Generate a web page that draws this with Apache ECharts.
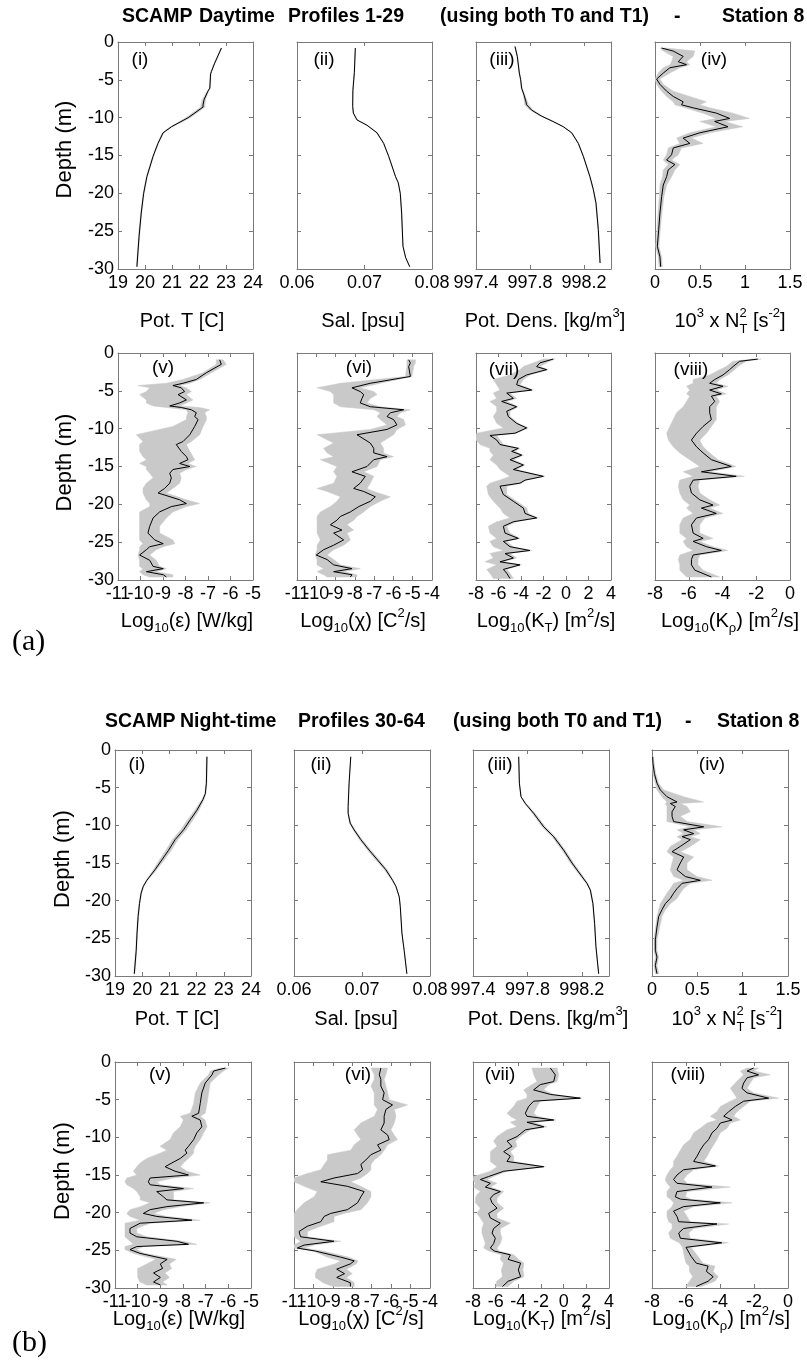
<!DOCTYPE html>
<html><head><meta charset="utf-8">
<script src="https://cdn.jsdelivr.net/npm/echarts@6/dist/echarts.min.js"></script>
<style>html,body{margin:0;padding:0;background:#fff}#c{width:807px;height:1363px}</style>
</head><body><div id="c"></div>
<script>
// ================= DATA (depth in m, negative downward) =================
// ---- (a) Daytime profiles 1-29 ----
const dayTD = [-0.8,-2.8,-3.9,-4.2,-6.1,-6.5,-7.6,-8.3,-8.6,-10.0,-11.2,-12.0,-13.4,-15.1,-17.8,-20.0,-22.6,-25.7,-29.7];
const dayT = [22.83,22.58,22.46,22.43,22.40,22.33,22.19,22.15,22.15,21.60,20.98,20.67,20.48,20.30,20.07,19.95,19.86,19.78,19.70];
const dayT_lo = [22.81,22.56,22.44,22.41,22.38,22.30,22.12,22.07,22.06,21.52,20.94,20.64,20.46,20.28,20.05,19.93,19.84,19.76,19.68];
const dayT_hi = [22.85,22.60,22.48,22.45,22.42,22.36,22.24,22.22,22.22,21.68,21.02,20.70,20.50,20.32,20.09,19.97,19.88,19.80,19.72];

const daySD = [-0.8,-4.0,-6.4,-8.5,-9.4,-10.3,-11.0,-12.0,-13.4,-15.1,-17.8,-18.6,-20.0,-22.6,-27.0,-28.5,-29.7];
const dayS = [0.06864,0.0685,0.06828,0.06825,0.06835,0.06889,0.07037,0.07185,0.07284,0.07358,0.0746,0.0750,0.0753,0.0755,0.0757,0.0761,0.0767];
const dayS_lo = [0.0686,0.06846,0.06824,0.06821,0.06829,0.06881,0.07029,0.07177,0.07278,0.07354,0.07456,0.07496,0.07526,0.07546,0.07566,0.07606,0.07666];
const dayS_hi = [0.06868,0.06854,0.06832,0.06829,0.06841,0.06897,0.07045,0.07193,0.0729,0.07362,0.07464,0.07504,0.07534,0.07554,0.07574,0.07614,0.07674];

const dayRD = [-0.6,-1.9,-4.1,-5.0,-6.1,-7.0,-7.9,-8.3,-9.0,-9.8,-10.5,-11.2,-12.0,-13.4,-15.1,-17.8,-19.5,-21.3,-24.8,-29.2];
const dayR = [997.689,997.706,997.721,997.731,997.738,997.756,997.770,997.775,997.812,997.886,997.970,998.047,998.109,998.158,998.195,998.244,998.269,998.289,998.306,998.319];
const dayR_lo = [997.686,997.703,997.718,997.728,997.734,997.750,997.758,997.761,997.800,997.878,997.964,998.042,998.105,998.155,998.192,998.241,998.266,998.286,998.303,998.316];
const dayR_hi = [997.692,997.709,997.724,997.734,997.742,997.762,997.782,997.789,997.824,997.894,997.976,998.052,998.113,998.161,998.198,998.247,998.272,998.292,998.309,998.322];

const dayND = [-0.8,-1.2,-1.9,-2.6,-3.0,-3.4,-4.1,-4.9,-5.6,-6.5,-7.2,-7.9,-8.3,-8.7,-9.4,-10.1,-10.5,-11.2,-12.0,-12.7,-13.4,-14.0,-14.9,-15.6,-16.2,-16.9,-17.8,-18.9,-20.4,-22.6,-24.8,-27.0,-28.4,-29.7];
const dayN = [0.074,0.203,0.313,0.258,0.350,0.166,0.092,0.018,0.055,0.129,0.203,0.313,0.295,0.424,0.682,0.829,0.663,0.811,0.498,0.313,0.387,0.203,0.184,0.129,0.221,0.147,0.129,0.092,0.074,0.055,0.041,0.026,0.055,0.063];
const dayN_lo = [0.055,0.092,0.203,0.184,0.166,0.092,0.037,0,0.018,0.074,0.129,0.203,0.221,0.332,0.534,0.682,0.498,0.682,0.387,0.240,0.276,0.147,0.129,0.092,0.147,0.092,0.085,0.055,0.048,0.033,0.022,0.007,0.037,0.044];
const dayN_hi = [0.129,0.442,0.424,0.350,0.387,0.276,0.166,0.055,0.092,0.203,0.387,0.571,0.498,0.608,0.866,1.050,0.774,0.977,0.608,0.405,0.534,0.295,0.258,0.184,0.276,0.221,0.184,0.129,0.100,0.077,0.059,0.044,0.074,0.081];

const dayED = [-0.9,-1.5,-2.6,-3.5,-4.0,-4.3,-4.6,-5.1,-5.5,-6.2,-6.6,-7.0,-7.2,-7.5,-7.9,-8.4,-8.8,-9.7,-10.8,-11.7,-12.1,-13.0,-13.7,-14.1,-14.6,-15.0,-15.4,-15.9,-16.5,-17.2,-17.9,-18.5,-19.4,-19.9,-20.3,-21.0,-21.8,-22.9,-23.8,-24.7,-25.2,-25.6,-26.0,-26.7,-27.4,-28.2,-28.5,-28.9,-29.3,-29.6];
const dayE = [-6.48,-6.41,-7.07,-7.52,-8.11,-8.56,-8.19,-8.04,-8.33,-7.96,-8.26,-8.70,-8.19,-7.74,-7.52,-7.59,-7.44,-7.59,-7.81,-8.11,-8.41,-8.19,-7.96,-7.89,-8.26,-7.81,-8.56,-8.70,-8.63,-8.70,-8.93,-9.22,-8.26,-7.96,-8.63,-9.15,-9.44,-9.59,-9.67,-9.37,-8.99,-9.59,-9.74,-10.04,-9.59,-9.44,-8.99,-9.74,-8.99,-8.85];
const dayE_lo = [-6.63,-6.63,-7.22,-8.11,-8.85,-10.11,-9.59,-9.74,-10.04,-9.74,-9.74,-9.44,-8.85,-7.96,-7.89,-7.96,-7.96,-8.56,-10.19,-9.89,-10.04,-10.04,-9.89,-9.74,-10.04,-9.74,-9.74,-9.59,-9.44,-9.74,-9.89,-9.89,-9.74,-9.59,-9.59,-10.04,-10.04,-10.04,-10.04,-10.04,-9.89,-10.04,-10.04,-10.11,-10.04,-10.04,-9.89,-10.04,-9.89,-9.59];
const dayE_hi = [-6.33,-6.19,-6.85,-7.37,-7.81,-8.26,-7.96,-7.74,-7.96,-7.67,-7.96,-8.26,-7.37,-6.93,-7.15,-7.07,-7.07,-7.22,-7.37,-7.74,-7.96,-7.81,-7.67,-7.59,-7.89,-7.52,-7.96,-8.26,-8.19,-8.26,-8.56,-8.85,-7.96,-7.37,-7.96,-8.56,-8.85,-9.15,-9.15,-8.56,-8.48,-8.99,-9.30,-9.59,-9.30,-9.15,-8.85,-9.30,-8.56,-8.56];

const dayCD = [-0.9,-1.3,-1.8,-3.1,-4.0,-4.6,-5.1,-5.5,-6.0,-6.6,-7.1,-7.5,-7.9,-8.4,-8.8,-9.5,-10.1,-10.8,-11.9,-12.6,-13.2,-13.7,-14.1,-15.0,-15.7,-16.3,-17.2,-17.9,-18.3,-19.0,-19.6,-20.3,-21.0,-21.6,-22.1,-22.7,-23.4,-23.8,-24.7,-25.4,-26.0,-26.7,-27.3,-28.0,-28.5,-28.9,-29.3,-29.6];
const dayC = [-5.21,-5.12,-5.21,-5.12,-7.20,-8.15,-7.72,-7.54,-7.63,-7.72,-7.20,-5.47,-6.16,-6.33,-5.99,-5.82,-6.33,-7.89,-7.20,-7.02,-7.02,-6.33,-7.02,-7.37,-8.15,-7.46,-7.72,-8.06,-7.54,-6.94,-7.20,-7.80,-8.23,-8.75,-8.93,-9.27,-8.67,-9.10,-8.58,-9.10,-9.62,-10.0,-9.44,-9.10,-8.15,-9.10,-8.15,-8.23];
const dayC_lo = [-5.30,-5.30,-5.30,-5.38,-8.75,-9.96,-9.27,-9.10,-9.10,-9.10,-8.75,-7.02,-6.68,-6.85,-6.68,-6.33,-7.20,-9.96,-9.10,-9.62,-9.44,-9.10,-9.79,-8.93,-9.10,-8.93,-9.10,-9.96,-9.44,-8.75,-8.93,-9.27,-9.79,-9.96,-9.96,-9.96,-9.96,-9.96,-9.79,-9.96,-9.96,-10.05,-9.96,-9.96,-9.62,-9.96,-9.62,-9.44];
const dayC_hi = [-4.86,-4.86,-4.95,-5.04,-6.68,-7.72,-7.02,-6.85,-7.20,-7.37,-6.68,-5.12,-5.64,-5.82,-5.47,-5.38,-5.82,-5.99,-6.68,-6.51,-6.51,-5.99,-6.68,-6.85,-7.54,-7.02,-7.20,-7.37,-7.02,-6.16,-6.68,-7.20,-7.54,-7.89,-8.06,-8.41,-8.06,-8.41,-8.23,-8.58,-9.10,-9.44,-9.10,-8.75,-7.72,-8.58,-7.89,-7.89];

const dayKTD = [-0.8,-1.3,-1.8,-2.2,-2.9,-3.5,-4.2,-4.9,-5.3,-6.0,-6.4,-7.1,-7.7,-8.4,-9.3,-9.9,-10.6,-10.9,-11.5,-12.1,-12.6,-13.0,-13.5,-14.1,-14.8,-15.4,-16.3,-16.8,-17.2,-17.6,-18.7,-19.6,-20.5,-21.2,-21.8,-22.3,-22.9,-23.8,-24.5,-24.9,-25.6,-26.1,-26.5,-27.1,-27.6,-28.0,-28.6,-29.1,-29.8];
const dayKT = [-1.13,-2.31,-2.61,-1.72,-3.5,-4.24,-4.39,-3.05,-5.27,-4.68,-5.72,-4.39,-5.27,-5.13,-4.39,-3.5,-4.53,-6.76,-6.16,-5.87,-4.24,-4.83,-3.94,-4.98,-3.79,-4.68,-2.01,-3.64,-4.09,-5.87,-5.57,-4.68,-3.79,-3.64,-2.61,-4.68,-5.57,-5.42,-4.24,-5.57,-4.98,-3.2,-5.42,-4.68,-5.87,-4.09,-5.57,-5.27,-4.98];
const dayKT_lo = [-2.01,-2.90,-3.79,-4.09,-4.98,-6.46,-6.16,-5.87,-6.46,-6.16,-6.76,-6.16,-6.16,-6.46,-6.16,-5.57,-7.94,-8.0,-8.0,-7.64,-6.76,-6.76,-6.46,-6.76,-6.16,-5.87,-4.98,-5.87,-6.76,-7.05,-6.9,-6.46,-5.87,-5.57,-4.98,-6.16,-6.9,-6.76,-6.16,-6.76,-6.46,-5.57,-6.76,-6.46,-7.2,-6.16,-7.05,-6.76,-6.46];
const dayKT_hi = [-0.98,-1.72,-2.31,-1.57,-3.2,-3.79,-4.09,-2.90,-4.98,-4.39,-5.27,-4.24,-4.98,-4.98,-4.24,-3.35,-4.39,-6.16,-5.87,-5.57,-4.09,-4.53,-3.79,-4.68,-3.64,-4.39,-1.87,-3.5,-3.94,-5.27,-5.27,-4.39,-3.5,-3.35,-2.46,-4.39,-5.27,-4.98,-4.09,-5.27,-4.68,-3.05,-4.98,-4.39,-5.57,-3.94,-5.27,-4.98,-4.68];

const dayKRD = [-0.8,-1.1,-1.8,-2.2,-2.9,-3.5,-4.0,-4.4,-4.9,-5.4,-5.7,-6.4,-7.1,-7.9,-8.8,-9.7,-10.6,-11.5,-12.4,-13.2,-14.1,-15.0,-15.7,-16.3,-16.8,-17.6,-18.5,-19.4,-20.1,-20.5,-21.2,-21.8,-22.7,-23.8,-24.5,-24.9,-25.6,-26.1,-26.7,-27.3,-28.0,-28.7,-29.6];
const dayKR = [-1.91,-2.99,-3.38,-3.58,-3.97,-4.46,-4.76,-3.97,-4.76,-4.07,-4.66,-4.46,-4.76,-4.76,-4.66,-5.15,-5.54,-5.84,-5.54,-5.15,-4.66,-3.48,-5.25,-3.19,-5.74,-5.94,-5.84,-5.35,-4.56,-5.25,-4.37,-5.54,-5.84,-5.74,-5.15,-5.74,-4.95,-4.07,-5.74,-5.84,-5.84,-5.64,-4.66];
const dayKR_lo = [-2.20,-3.38,-3.78,-4.17,-4.76,-5.74,-5.74,-6.13,-5.94,-6.13,-5.94,-6.13,-6.33,-6.72,-6.92,-7.12,-7.31,-7.21,-6.92,-6.53,-5.94,-5.35,-6.33,-5.74,-6.53,-6.62,-6.53,-6.33,-5.94,-6.13,-5.74,-6.33,-6.53,-6.53,-6.13,-6.33,-6.13,-5.74,-6.53,-6.62,-6.53,-6.53,-6.13];
const dayKR_hi = [-1.71,-2.60,-3.09,-3.28,-3.68,-4.17,-4.37,-3.68,-4.37,-3.78,-4.37,-4.17,-4.37,-4.37,-4.37,-4.66,-4.95,-5.35,-5.15,-4.76,-4.27,-3.19,-4.76,-2.70,-5.35,-5.45,-5.35,-4.76,-4.17,-4.76,-3.97,-5.05,-5.35,-5.35,-4.56,-5.35,-4.56,-3.68,-5.35,-5.45,-5.45,-5.15,-4.17];

// ---- (b) Night-time profiles 30-64 ----
const ngtTD = [-0.9,-4.4,-5.8,-6.6,-8.0,-9.3,-10.6,-11.9,-13.3,-14.6,-15.9,-17.3,-18.1,-19.0,-20.4,-22.1,-24.3,-26.6,-29.7];
const ngtT = [22.38,22.36,22.32,22.23,22.01,21.76,21.52,21.21,20.97,20.72,20.47,20.17,20.04,19.96,19.90,19.85,19.81,19.78,19.71];
const ngtT_lo = [22.36,22.34,22.30,22.19,21.93,21.66,21.42,21.11,20.87,20.63,20.41,20.14,20.02,19.94,19.88,19.83,19.79,19.76,19.69];
const ngtT_hi = [22.40,22.38,22.34,22.27,22.09,21.86,21.62,21.31,21.07,20.81,20.53,20.20,20.06,19.98,19.92,19.87,19.83,19.80,19.73];

const ngtSD = [-0.9,-4.4,-7.5,-8.4,-9.7,-10.6,-11.9,-13.3,-14.6,-15.9,-17.3,-18.1,-19.5,-20.8,-24.3,-26.6,-29.7];
const ngtS = [0.06835,0.0681,0.06796,0.06796,0.06826,0.06884,0.06983,0.07106,0.07229,0.07351,0.0745,0.07499,0.07548,0.07563,0.07587,0.0762,0.0766];
const ngtS_lo = [0.06832,0.06807,0.06793,0.06791,0.06816,0.06869,0.06963,0.07081,0.07204,0.07331,0.0744,0.07494,0.07545,0.0756,0.07584,0.07617,0.07657];
const ngtS_hi = [0.06838,0.06813,0.06799,0.06801,0.06836,0.06899,0.07003,0.07131,0.07254,0.07371,0.0746,0.07504,0.07551,0.07566,0.0759,0.07623,0.07663];

const ngtRD = [-0.9,-4.4,-6.2,-7.1,-8.4,-10.2,-11.5,-13.3,-15.0,-16.8,-17.7,-18.6,-20.4,-23.0,-26.1,-29.7];
const ngtR = [997.736,997.741,997.753,997.785,997.846,997.920,997.993,998.067,998.128,998.201,998.238,998.263,998.282,998.294,998.304,998.324];
const ngtR_lo = [997.734,997.739,997.750,997.779,997.836,997.908,997.981,998.055,998.116,998.191,998.232,998.259,998.279,998.292,998.302,998.322];
const ngtR_hi = [997.738,997.743,997.756,997.791,997.856,997.932,998.005,998.079,998.140,998.211,998.244,998.267,998.285,998.296,998.306,998.326];

const ngtND = [-0.9,-1.8,-3.1,-4.4,-5.3,-6.2,-6.9,-7.1,-7.5,-8.2,-8.8,-9.5,-10.2,-10.6,-11.1,-11.5,-11.9,-12.8,-13.5,-14.2,-15.0,-15.9,-16.8,-17.3,-17.7,-18.4,-19.0,-19.7,-20.4,-21.2,-22.1,-23.5,-25.2,-26.6,-27.5,-28.6,-29.7];
const ngtN = [0.007,0.011,0.026,0.055,0.092,0.165,0.276,0.202,0.257,0.221,0.221,0.239,0.570,0.349,0.460,0.331,0.423,0.312,0.221,0.349,0.312,0.276,0.368,0.533,0.331,0.276,0.239,0.202,0.147,0.110,0.074,0.055,0.037,0.037,0.055,0.037,0.055];
const ngtN_lo = [0,0,0.011,0.037,0.055,0.110,0.165,0.147,0.165,0.165,0.165,0.165,0.423,0.276,0.349,0.276,0.331,0.202,0.165,0.239,0.221,0.202,0.239,0.349,0.239,0.202,0.165,0.129,0.092,0.074,0.055,0.040,0.022,0.022,0.037,0.022,0.037];
const ngtN_hi = [0.015,0.026,0.040,0.074,0.129,0.349,0.570,0.312,0.386,0.423,0.312,0.386,0.772,0.460,0.533,0.423,0.533,0.423,0.312,0.460,0.386,0.386,0.496,0.662,0.423,0.349,0.312,0.276,0.202,0.147,0.110,0.085,0.055,0.055,0.074,0.055,0.074];

const ngtED = [-0.8,-1.2,-1.7,-2.8,-4.1,-5.5,-6.8,-7.2,-7.7,-8.6,-9.4,-10.3,-11.2,-11.7,-12.1,-12.8,-13.4,-13.9,-14.5,-15.0,-15.4,-15.9,-16.3,-16.8,-17.2,-17.9,-18.3,-18.7,-19.2,-19.6,-20.1,-20.5,-21.0,-21.4,-22.1,-22.7,-23.2,-23.8,-24.2,-24.5,-24.9,-25.4,-26.2,-26.8,-27.4,-28.0,-28.6,-29.2,-29.6];
const ngtE = [-6.13,-6.65,-6.72,-7.02,-7.17,-7.24,-7.31,-7.61,-7.24,-7.17,-7.39,-7.53,-7.76,-7.90,-7.83,-8.12,-8.49,-8.79,-8.35,-7.76,-9.45,-9.53,-9.45,-7.98,-9.16,-8.86,-8.71,-7.09,-8.71,-9.45,-9.75,-9.16,-7.61,-9.89,-10.34,-10.34,-10.04,-8.27,-7.76,-10.04,-10.34,-9.9,-8.7,-9.0,-8.9,-9.3,-9.0,-9.3,-9.0];
const ngtE_lo = [-6.35,-6.80,-6.87,-7.24,-7.46,-7.53,-7.68,-8.12,-7.98,-8.12,-8.42,-8.57,-9.01,-8.71,-9.01,-9.60,-9.89,-10.04,-10.19,-10.04,-10.48,-10.56,-10.48,-10.19,-10.04,-9.89,-9.89,-9.45,-9.89,-10.34,-10.48,-10.34,-9.89,-10.56,-10.56,-10.56,-10.56,-10.34,-10.19,-10.56,-10.56,-10.2,-9.2,-9.6,-10.0,-10.0,-10.0,-9.9,-9.6];
const ngtE_hi = [-5.99,-6.21,-6.43,-6.80,-6.87,-6.94,-7.02,-7.24,-7.02,-6.94,-7.09,-7.24,-7.46,-7.53,-7.53,-7.76,-7.98,-8.12,-7.83,-7.24,-8.42,-9.16,-9.01,-7.53,-8.42,-8.42,-8.42,-6.80,-8.12,-8.86,-9.30,-8.71,-7.24,-9.45,-10.04,-10.04,-9.60,-7.98,-7.39,-9.75,-10.04,-9.7,-8.3,-8.6,-8.5,-8.8,-8.6,-8.9,-8.7];

const ngtCD = [-0.8,-1.7,-2.3,-3.2,-4.1,-5.0,-5.7,-6.3,-7.2,-8.1,-9.0,-9.7,-10.3,-11.0,-11.7,-12.3,-13.0,-13.6,-14.3,-14.8,-15.4,-15.9,-16.5,-17.2,-17.9,-18.7,-19.6,-20.1,-20.5,-21.2,-21.8,-22.5,-23.2,-23.8,-24.3,-24.7,-25.1,-25.9,-26.4,-26.8,-27.5,-28.1,-28.6,-29.3,-29.8];
const ngtC = [-6.53,-6.61,-6.53,-6.53,-6.36,-6.44,-5.93,-6.27,-6.36,-6.36,-6.53,-6.18,-6.10,-6.70,-6.53,-7.04,-7.30,-7.56,-7.47,-7.73,-8.94,-9.62,-8.25,-7.39,-7.56,-7.73,-8.25,-9.11,-9.45,-9.62,-10.31,-10.74,-10.66,-8.94,-10.48,-10.83,-9.9,-8.6,-7.9,-8.1,-8.8,-8.4,-8.8,-8.1,-8.1];
const ngtC_lo = [-7.04,-6.87,-6.87,-7.04,-6.87,-6.87,-6.87,-6.70,-6.87,-7.56,-7.90,-7.73,-7.56,-7.90,-8.08,-9.28,-9.28,-9.45,-9.62,-10.31,-11.0,-11.0,-10.48,-9.80,-9.97,-10.48,-10.83,-11.0,-11.0,-11.0,-11.0,-11.0,-11.0,-10.66,-11.0,-11.0,-10.0,-9.3,-8.6,-8.9,-9.8,-9.9,-9.9,-9.5,-9.0];
const ngtC_hi = [-6.18,-6.27,-6.36,-6.27,-6.18,-6.10,-5.15,-5.84,-5.75,-5.84,-6.01,-5.84,-5.67,-6.18,-6.36,-6.53,-6.87,-7.04,-7.04,-7.22,-7.56,-8.08,-7.56,-7.04,-7.04,-7.22,-7.56,-8.42,-8.94,-8.94,-9.62,-10.31,-10.31,-8.59,-9.97,-10.48,-9.5,-8.2,-7.7,-7.8,-8.3,-8.0,-8.3,-7.9,-7.9];

const ngtKTD = [-0.8,-1.7,-2.6,-3.0,-3.7,-4.3,-4.8,-5.2,-5.9,-6.8,-7.2,-7.7,-8.0,-8.6,-9.0,-9.9,-10.5,-11.2,-11.9,-12.5,-13.2,-13.9,-14.5,-15.2,-15.6,-16.1,-16.6,-17.2,-17.6,-18.1,-18.7,-19.4,-20.1,-20.7,-21.4,-22.1,-22.7,-23.4,-24.1,-24.7,-25.1,-25.6,-26.2,-26.7,-27.6,-28.5,-29.1,-29.8];
const ngtKT = [-1.18,-0.74,-0.88,-2.06,-2.65,-1.18,1.47,-2.65,-3.09,-3.38,-3.24,-0.88,-3.24,-1.76,-3.38,-4.12,-5.0,-4.56,-5.29,-4.71,-5.0,-1.76,-5.29,-6.62,-7.35,-6.47,-6.91,-5.59,-6.18,-6.47,-6.32,-5.88,-6.62,-6.47,-5.59,-6.18,-6.32,-6.03,-6.18,-6.47,-6.1,-4.7,-4.9,-3.8,-4.0,-3.8,-4.9,-5.4];
const ngtKT_lo = [-2.79,-2.65,-2.35,-2.79,-3.53,-3.24,-3.24,-4.12,-4.41,-5.0,-4.71,-4.12,-4.71,-4.12,-5.0,-5.88,-6.18,-5.88,-6.47,-6.47,-6.47,-5.88,-6.47,-7.94,-8.0,-7.79,-7.94,-7.35,-7.65,-7.79,-7.79,-7.35,-7.65,-7.35,-7.06,-7.21,-7.21,-7.06,-6.91,-7.06,-6.6,-5.5,-5.6,-5.3,-5.5,-5.4,-5.9,-6.0];
const ngtKT_hi = [-0.59,-0.44,-0.59,-1.32,-1.76,-0.88,1.62,-2.06,-2.35,-2.65,-2.35,-0.7,-2.65,-1.47,-2.94,-3.82,-4.26,-4.12,-4.71,-4.41,-4.41,-1.6,-5.0,-6.18,-6.76,-5.88,-6.47,-5.29,-5.59,-5.88,-5.88,-5.29,-5.88,-5.88,-4.71,-5.59,-5.59,-5.44,-5.59,-5.88,-5.7,-4.4,-4.0,-3.5,-3.6,-3.5,-4.4,-4.9];

const ngtKRD = [-0.8,-1.2,-1.7,-2.1,-2.8,-3.5,-4.1,-4.8,-5.2,-5.9,-6.6,-7.2,-7.7,-8.1,-8.8,-9.4,-10.3,-11.0,-11.7,-12.5,-13.2,-13.8,-14.3,-15.0,-15.6,-16.1,-16.6,-17.2,-17.9,-18.2,-18.7,-19.2,-19.8,-20.5,-21.2,-21.5,-22.1,-22.7,-23.4,-24.0,-24.6,-25.8,-26.7,-27.1,-27.8,-28.5,-29.1,-29.8];
const ngtKR = [-2.02,-2.41,-1.73,-2.41,-2.61,-2.71,-2.41,-1.14,-2.61,-3.10,-3.49,-3.78,-3.29,-3.98,-4.18,-4.47,-4.67,-4.96,-5.16,-5.35,-5.55,-4.27,-6.14,-6.53,-6.73,-6.53,-4.47,-6.53,-6.63,-6.33,-3.98,-6.14,-6.73,-6.53,-6.43,-4.18,-6.14,-6.43,-6.33,-3.9,-6.0,-5.7,-5.4,-4.7,-4.8,-4.4,-4.7,-5.4];
const ngtKR_lo = [-2.41,-2.8,-2.61,-2.8,-3.1,-3.39,-3.2,-3.0,-3.39,-3.98,-4.18,-4.57,-4.18,-4.76,-5.16,-5.55,-5.75,-6.14,-6.33,-6.53,-6.73,-6.73,-6.92,-7.12,-7.22,-7.12,-6.92,-7.12,-7.12,-6.92,-6.73,-6.82,-7.12,-7.12,-7.02,-6.82,-6.82,-7.02,-6.92,-6.4,-6.2,-6.1,-6.0,-5.8,-5.8,-5.6,-5.8,-6.0];
const ngtKR_hi = [-1.73,-2.02,-1.04,-2.02,-2.22,-2.41,-2.02,-0.55,-2.22,-2.61,-3.0,-3.2,-2.8,-3.39,-3.59,-3.98,-4.18,-4.37,-4.57,-4.76,-4.96,-4.08,-5.55,-5.94,-6.14,-5.94,-3.39,-5.94,-6.04,-5.75,-3.29,-5.55,-6.14,-5.94,-5.75,-3.49,-5.55,-5.84,-5.75,-3.5,-5.7,-5.3,-5.0,-4.3,-4.4,-4.1,-4.3,-5.1];

// ---- axis ranges / tick labels ----
const xRanges = [[19,24,1],[0.06,0.08,0.01],[997.4,998.4,0.4],[0,1.5,0.5],[-11,-5,1],[-11,-4,1],[-8,4,2],[-8,0,2]];
const epsTickLabels = ['-11','-10','-9','-8','-7','-6','-5'];
const chiTickLabels = ['-11','-10','-9','-8','-7','-6','-5','-4'];
const depthRange = [-30,0,5];
const panelTags = ['(i)','(ii)','(iii)','(iv)','(v)','(vi)','(vii)','(viii)'];
const titleDay = ['SCAMP','Daytime','Profiles 1-29','(using both T0 and T1)','-','Station 8'];
const titleNight = ['SCAMP','Night-time','Profiles 30-64','(using both T0 and T1)','-','Station 8'];

// ================= LAYOUT =================
const SANS = '"Liberation Sans", Arial, sans-serif';
const FRAME = '#7a7a7a', BAND = '#c9c9c9';
const colLeft = [[118,297,476,655],[118,297,476,655],[115,294,473,652],[115,294,473,652]];
const colW = [135,135,136,136];
const rowTop = [42,353,750,1062];
const rowH = [227,227,226,226];
const LBL_MARGIN = 5, LBL_SIZE = 18;

const panels = [
  [dayTD,dayT,dayT_lo,dayT_hi],[daySD,dayS,dayS_lo,dayS_hi],[dayRD,dayR,dayR_lo,dayR_hi],[dayND,dayN,dayN_lo,dayN_hi],
  [dayED,dayE,dayE_lo,dayE_hi],[dayCD,dayC,dayC_lo,dayC_hi],[dayKTD,dayKT,dayKT_lo,dayKT_hi],[dayKRD,dayKR,dayKR_lo,dayKR_hi],
  [ngtTD,ngtT,ngtT_lo,ngtT_hi],[ngtSD,ngtS,ngtS_lo,ngtS_hi],[ngtRD,ngtR,ngtR_lo,ngtR_hi],[ngtND,ngtN,ngtN_lo,ngtN_hi],
  [ngtED,ngtE,ngtE_lo,ngtE_hi],[ngtCD,ngtC,ngtC_lo,ngtC_hi],[ngtKTD,ngtKT,ngtKT_lo,ngtKT_hi],[ngtKRD,ngtKR,ngtKR_lo,ngtKR_hi]
];

const grids = [], xAxes = [], yAxes = [], series = [];
const lineAx = {show:true, onZero:false, lineStyle:{color:FRAME, width:1}};
const tickAx = {show:true, inside:true, length:4, lineStyle:{color:FRAME, width:1}};
const manualLabelAxes = []; // crowded axes whose labels are placed through the axis scale below

panels.forEach((p, i) => {
  const row = Math.floor(i/4), col = i%4;
  const spec = xRanges[(row%2)*4 + col];
  const isDens = (row%2)===0 && col===2;
  const crowded = (row%2)===1 && col<2;
  if (crowded) manualLabelAxes.push({axis:2*i, row:row, labels: col===0 ? epsTickLabels : chiTickLabels, min:spec[0], step:spec[2]});
  grids.push({left:colLeft[row][col], top:rowTop[row], width:colW[row], height:rowH[row], show:false, containLabel:false, outerBoundsMode:'none'});
  const xb = {gridIndex:i, type:'value', min:spec[0], max:spec[1], interval:spec[2], position:'bottom',
    axisLine:lineAx, axisTick:tickAx, splitLine:{show:false},
    axisLabel:{show:!crowded, margin:LBL_MARGIN, showMaxLabel:!isDens, showMinLabel:true,
      color:'#000', fontSize:LBL_SIZE, fontFamily:SANS,
      formatter: isDens ? (v => v.toFixed(1)) : undefined}};
  const xt = {gridIndex:i, type:'value', min:spec[0], max:spec[1], interval:spec[2], position:'top',
    axisLine:lineAx, axisTick:tickAx, splitLine:{show:false}, axisLabel:{show:false}};
  const yl = {gridIndex:i, type:'value', min:depthRange[0], max:depthRange[1], interval:depthRange[2], position:'left',
    axisLine:lineAx, axisTick:tickAx, splitLine:{show:false},
    axisLabel:{show:col===0, margin:4, color:'#000', fontSize:LBL_SIZE, fontFamily:SANS}};
  const yr = {gridIndex:i, type:'value', min:depthRange[0], max:depthRange[1], interval:depthRange[2], position:'right',
    axisLine:lineAx, axisTick:tickAx, splitLine:{show:false}, axisLabel:{show:false}};
  xAxes.push(xb, xt); yAxes.push(yl, yr);
  const d = p[0], m = p[1], lo = p[2], hi = p[3];
  series.push({
    type:'custom', xAxisIndex:2*i, yAxisIndex:2*i, clip:true, silent:true, z:1,
    data:[[m[0], d[0]]],
    renderItem: function(params, api){
      const pts = [];
      for (let k=0;k<d.length;k++) pts.push(api.coord([lo[k], d[k]]));
      for (let k=d.length-1;k>=0;k--) pts.push(api.coord([hi[k], d[k]]));
      return {type:'polygon', shape:{points:pts}, style:{fill:BAND, stroke:BAND, lineWidth:0.5}};
    }
  });
  series.push({type:'line', xAxisIndex:2*i, yAxisIndex:2*i, data:d.map((v,k)=>[m[k], v]),
    showSymbol:false, symbol:'none', clip:true, silent:true, z:3, lineStyle:{color:'#000', width:1}});
});

// ================= TEXT =================
const cv = document.createElement('canvas').getContext('2d');
function tw(t, font){ cv.font = font; return cv.measureText(t).width; }
function txt(x, y, t, font, align, valign){
  return {type:'text', x:x, y:y, silent:true, z:100,
    style:{text:t, font:font, fill:'#000', align:align||'left', verticalAlign:valign||'middle'}};
}
const FM = '20px ' + SANS, FS = '13px ' + SANS;
function comp(cx, cy, toks){
  const ws = toks.map(t => t[1]==='stack' ? Math.max(tw(t[0],FS), tw(t[2],FS)) : tw(t[0], t[1]==='n'?FM:FS));
  let x = cx - ws.reduce((a,b)=>a+b,0)/2;
  const out = [];
  toks.forEach((t,k) => {
    if (t[1]==='stack'){ out.push(txt(x, cy-8, t[0], FS)); out.push(txt(x, cy+8, t[2], FS)); }
    else out.push(txt(x, cy + (t[1]==='sup'?-8:(t[1]==='sub'?7:0)), t[0], t[1]==='n'?FM:FS));
    x += ws[k];
  });
  return out;
}
const names = [
  [['Pot. T [C]','n']],
  [['Sal. [psu]','n']],
  [['Pot. Dens. [kg/m','n'],['3','sup'],[']','n']],
  [['10','n'],['3','sup'],[' x N','n'],['2','stack','T'],[' [s','n'],['-2','sup'],[']','n']],
  [['Log','n'],['10','sub'],['(\u03b5) [W/kg]','n']],
  [['Log','n'],['10','sub'],['(\u03c7) [C','n'],['2','sup'],['/s]','n']],
  [['Log','n'],['10','sub'],['(K','n'],['T','sub'],[') [m','n'],['2','sup'],['/s]','n']],
  [['Log','n'],['10','sub'],['(K','n'],['\u03c1','sub'],[') [m','n'],['2','sup'],['/s]','n']]
];
const nameCx = [[182,363,545,730],[187,363,546,730],[177,356,548,727],[179,361,542,721]];
const nameCy = [321,621,1019,1319];
const tagPos = [
  [[140,60],[324,60],[502,60],[714,60]],
  [[163,368],[359,368],[504,370],[691,370]],
  [[137,765],[321,765],[500,765],[712,765]],
  [[160,1075],[358,1075],[500,1075],[688,1075]]
];
const graphics = [];
for (let r=0;r<4;r++){
  for (let c=0;c<4;c++){
    comp(nameCx[r][c], nameCy[r], names[(r%2)*4+c]).forEach(e=>graphics.push(e));
    graphics.push(txt(tagPos[r][c][0], tagPos[r][c][1], panelTags[(r%2)*4+c], '19px '+SANS, 'center'));
  }
  const dx = r<2 ? 65 : 63, dy = rowTop[r] + rowH[r]/2 - (r===0?6:4);
  graphics.push({type:'text', x:dx, y:dy, rotation:Math.PI/2, silent:true, z:100,
    style:{text:'Depth (m)', font:'22px '+SANS, fill:'#000', align:'center', verticalAlign:'middle'}});
}
const TF = 'bold 19.5px ' + SANS;
const dayX = [122,199,288,440,674,722], ngtX = [105,180,298,453,685,717];
titleDay.forEach((t,k)=>graphics.push(txt(dayX[k], 17, t, TF)));
titleNight.forEach((t,k)=>graphics.push(txt(ngtX[k], 722, t, TF)));
graphics.push(txt(12, 642, '(a)', '30px "Liberation Serif", serif'));
graphics.push(txt(12, 1343, '(b)', '30px "Liberation Serif", serif'));

const chart = echarts.init(document.getElementById('c'), null, {renderer:'canvas', width:807, height:1363});
chart.setOption({
  animation:false, backgroundColor:'#fff',
  grid:grids, xAxis:xAxes, yAxis:yAxes, series:series
});
// crowded tick labels (-11,-10 overlap as in the original): positioned with the axis scale
manualLabelAxes.forEach(a => {
  a.labels.forEach((lab, k) => {
    const v = a.min + k*a.step;
    const px = chart.convertToPixel({xAxisIndex:a.axis}, v);
    graphics.push(txt(px, rowTop[a.row] + rowH[a.row] + LBL_MARGIN, lab, LBL_SIZE + 'px ' + SANS, 'center', 'top'));
  });
});
chart.setOption({graphic:graphics});
</script></body></html>
